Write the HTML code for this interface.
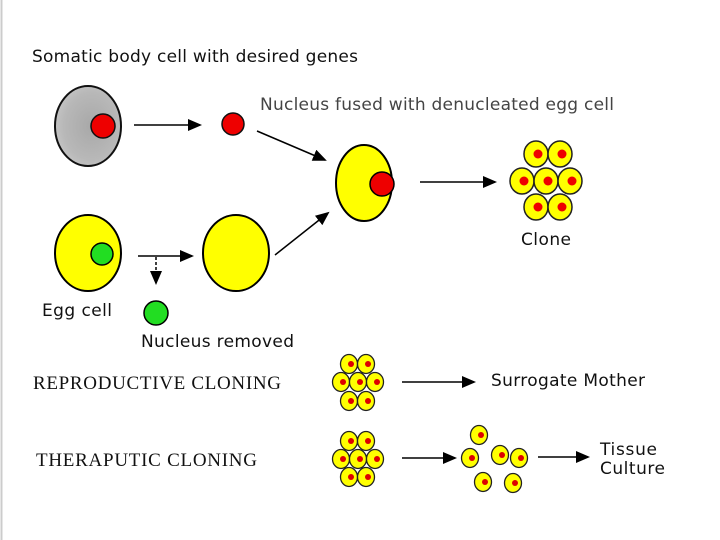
<!DOCTYPE html>
<html><head><style>html,body{margin:0;padding:0;background:#fff}svg{display:block}</style></head>
<body>
<svg width="720" height="540" viewBox="0 0 720 540" xmlns="http://www.w3.org/2000/svg">
<defs>
<marker id="a" markerWidth="14" markerHeight="12" refX="12" refY="6" orient="auto" markerUnits="userSpaceOnUse"><path d="M0,0 L14,6 L0,12 z" fill="#000"/></marker>
<radialGradient id="g" cx="0.55" cy="0.5" r="0.6"><stop offset="0" stop-color="#a8a8a8"/><stop offset="0.7" stop-color="#b8b8b8"/><stop offset="1" stop-color="#c8c8c8"/></radialGradient>
<g id="c"><ellipse rx="12" ry="13" fill="#ffff00" stroke="#222" stroke-width="1.5"/><circle cx="2" cy="0" r="4.5" fill="#e00"/></g>
<g id="s"><ellipse rx="8.5" ry="9.5" fill="#ffff00" stroke="#222" stroke-width="1.3"/><circle cx="2" cy="0" r="3" fill="#d00"/></g>
</defs>
<line x1="1.5" y1="0" x2="1.5" y2="540" stroke="#ccc" stroke-width="2"/>
<g font-family="DejaVu Sans, Liberation Sans, sans-serif" fill="#111">
<text x="32" y="62" font-size="17" textLength="326">Somatic body cell with desired genes</text>
<text x="260" y="110" font-size="17" fill="#444" textLength="354">Nucleus fused with denucleated egg cell</text>
<text x="521" y="245" font-size="17" textLength="50">Clone</text>
<text x="42" y="316" font-size="17" textLength="70">Egg cell</text>
<text x="141" y="347" font-size="17" textLength="153">Nucleus removed</text>
<text x="491" y="386" font-size="17" textLength="154">Surrogate Mother</text>
<text x="600" y="455" font-size="17" textLength="57">Tissue</text>
<text x="600" y="474" font-size="17" textLength="65">Culture</text>
</g>
<g font-family="Liberation Serif, DejaVu Serif, serif" fill="#111" font-size="19">
<text x="33" y="389" textLength="248">REPRODUCTIVE CLONING</text>
<text x="36" y="466" textLength="221">THERAPUTIC CLONING</text>
</g>
<g stroke="#000" stroke-width="1.5">
<ellipse cx="88" cy="126" rx="33" ry="40" fill="url(#g)" stroke="#111" stroke-width="2"/>
<circle cx="103" cy="126" r="12" fill="#e00" stroke="#111"/>
<circle cx="233" cy="124" r="11" fill="#e00" stroke="#111"/>
<ellipse cx="364" cy="183" rx="28" ry="38" fill="#ffff00" stroke-width="2"/>
<circle cx="382" cy="184" r="12" fill="#e00"/>
<ellipse cx="88" cy="253" rx="33" ry="38" fill="#ffff00" stroke-width="2"/>
<circle cx="102" cy="254" r="11" fill="#22dd22"/>
<ellipse cx="236" cy="253" rx="33" ry="38" fill="#ffff00" stroke-width="2"/>
<circle cx="156" cy="313" r="12" fill="#22dd22"/>
<line x1="134" y1="125" x2="200" y2="125" marker-end="url(#a)"/>
<line x1="257" y1="131" x2="325" y2="160" marker-end="url(#a)"/>
<line x1="420" y1="182" x2="495" y2="182" marker-end="url(#a)"/>
<line x1="138" y1="256" x2="192" y2="256" marker-end="url(#a)"/>
<line x1="156" y1="257" x2="156" y2="283" stroke-dasharray="3,2" marker-end="url(#a)"/>
<line x1="275" y1="255" x2="328" y2="213" marker-end="url(#a)"/>
<line x1="402" y1="382" x2="474" y2="382" marker-end="url(#a)"/>
<line x1="402" y1="458" x2="455" y2="458" marker-end="url(#a)"/>
<line x1="538" y1="457" x2="588" y2="457" marker-end="url(#a)"/>
</g>
<use href="#c" x="536" y="154"/><use href="#c" x="560" y="154"/>
<use href="#c" x="522" y="181"/><use href="#c" x="546" y="181"/><use href="#c" x="570" y="181"/>
<use href="#c" x="536" y="207"/><use href="#c" x="560" y="207"/>
<use href="#s" x="349" y="364"/><use href="#s" x="366" y="364"/>
<use href="#s" x="341" y="382"/><use href="#s" x="358" y="382"/><use href="#s" x="375" y="382"/>
<use href="#s" x="349" y="401"/><use href="#s" x="366" y="401"/>
<use href="#s" x="349" y="441"/><use href="#s" x="366" y="441"/>
<use href="#s" x="341" y="459"/><use href="#s" x="358" y="459"/><use href="#s" x="375" y="459"/>
<use href="#s" x="349" y="477"/><use href="#s" x="366" y="477"/>
<use href="#s" x="479" y="435"/><use href="#s" x="470" y="458"/><use href="#s" x="500" y="455"/>
<use href="#s" x="519" y="458"/><use href="#s" x="483" y="482"/><use href="#s" x="513" y="483"/>
</svg>
</body></html>
